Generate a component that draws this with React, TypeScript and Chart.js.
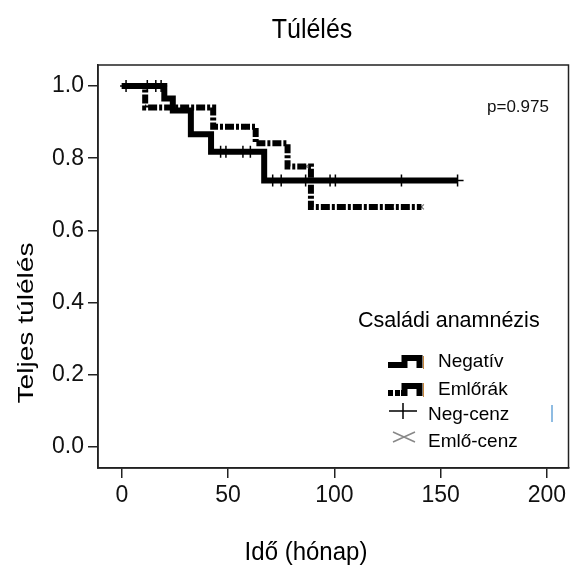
import React, { useEffect, useRef } from 'react';
import { Chart, registerables } from 'chart.js';

Chart.register(...registerables);

const FONT = '"Liberation Sans", Arial, sans-serif';

const chartTitle = 'Túlélés';
const xTitle = 'Idő (hónap)';
const yTitle = 'Teljes túlélés';
const pValueText = 'p=0.975';
const legendTitle = 'Családi anamnézis';
const legendLabels = ['Negatív', 'Emlőrák', 'Neg-cenz', 'Emlő-cenz'];

const xTickValues = [0, 50, 100, 150, 200];
const yTickValues = [0, 0.2, 0.4, 0.6, 0.8, 1.0];

// Kaplan-Meier steps (time in months, survival)
const negTimes = [0, 20, 24, 32.5, 42, 67, 158];
const negSurv = [1.0, 0.965, 0.932, 0.866, 0.818, 0.738, 0.738];
const emlTimes = [0, 11, 43, 63, 78, 89, 141];
const emlSurv = [1.0, 0.94, 0.887, 0.841, 0.777, 0.665, 0.665];

// censoring times
const negCensTimes = [2, 12, 16, 18.5, 46.5, 49, 57, 60.5, 71, 75, 86.5, 98, 100.5, 131.6, 158];
const emlCensTimes = [59, 87, 95, 127, 141];

function survAt(times: number[], surv: number[], t: number) {
  let s = surv[0];
  for (let i = 0; i < times.length; i++) if (times[i] <= t) s = surv[i];
  return s;
}

const overlay = {
  id: 'overlay',
  afterDraw(chart: any) {
    const ctx: CanvasRenderingContext2D = chart.ctx;
    const { left, top, right, bottom } = chart.chartArea;
    ctx.save();
    // plot box
    ctx.strokeStyle = '#222';
    ctx.lineWidth = 1.5;
    ctx.strokeRect(left, top, right - left, bottom - top);

    ctx.fillStyle = '#000';
    // main title
    ctx.save();
    ctx.font = `25px ${FONT}`;
    ctx.textAlign = 'center';
    ctx.textBaseline = 'alphabetic';
    ctx.translate(312, 38);
    ctx.scale(1, 1.1);
    ctx.fillText(chartTitle, 0, 0);
    ctx.restore();

    // x title
    ctx.save();
    ctx.font = `24px ${FONT}`;
    ctx.textAlign = 'center';
    ctx.textBaseline = 'alphabetic';
    ctx.translate(306, 560);
    ctx.scale(1, 1.1);
    ctx.fillText(xTitle, 0, 0);
    ctx.restore();

    // y title
    ctx.save();
    ctx.font = `22px ${FONT}`;
    ctx.textAlign = 'center';
    ctx.textBaseline = 'middle';
    ctx.translate(27, 323);
    ctx.rotate(-Math.PI / 2);
    ctx.scale(1.28, 1);
    ctx.fillText(yTitle, 0, 0);
    ctx.restore();

    // p value
    ctx.font = `17px ${FONT}`;
    ctx.textAlign = 'left';
    ctx.textBaseline = 'alphabetic';
    ctx.fillStyle = '#111';
    ctx.fillText(pValueText, 487, 112);

    // legend
    ctx.fillStyle = '#000';
    ctx.font = `21.5px ${FONT}`;
    ctx.fillText(legendTitle, 358, 327);

    ctx.font = `19px ${FONT}`;
    ctx.fillText(legendLabels[0], 438, 367);
    ctx.fillText(legendLabels[1], 438, 395);
    ctx.fillText(legendLabels[2], 428, 420);
    ctx.fillText(legendLabels[3], 428, 447);

    // Negatív symbol
    ctx.strokeStyle = '#000';
    ctx.lineWidth = 6;
    ctx.lineJoin = 'miter';
    ctx.lineCap = 'butt';
    ctx.beginPath();
    ctx.moveTo(388, 365);
    ctx.lineTo(404.5, 365);
    ctx.lineTo(404.5, 358);
    ctx.lineTo(419.5, 358);
    ctx.lineTo(419.5, 368);
    ctx.stroke();

    // Emlőrák symbol
    ctx.fillStyle = '#000';
    ctx.fillRect(388, 390, 5, 6);
    ctx.fillRect(395, 390, 5, 6);
    ctx.beginPath();
    ctx.moveTo(401, 393);
    ctx.lineTo(404.5, 393);
    ctx.lineTo(404.5, 386);
    ctx.lineTo(419.5, 386);
    ctx.lineTo(419.5, 396);
    ctx.stroke();

    // small coloured marks
    ctx.lineWidth = 1;
    ctx.strokeStyle = '#c8863a';
    ctx.beginPath();
    ctx.moveTo(423.5, 356);
    ctx.lineTo(423.5, 369);
    ctx.moveTo(423.5, 383);
    ctx.lineTo(423.5, 397);
    ctx.stroke();
    ctx.strokeStyle = '#6aa6d8';
    ctx.lineWidth = 1.5;
    ctx.beginPath();
    ctx.moveTo(552, 405);
    ctx.lineTo(552, 422);
    ctx.stroke();

    // Neg-cenz symbol (+)
    ctx.strokeStyle = '#000';
    ctx.lineWidth = 1.5;
    ctx.beginPath();
    ctx.moveTo(389, 411);
    ctx.lineTo(417, 411);
    ctx.moveTo(403, 403);
    ctx.lineTo(403, 419);
    ctx.stroke();

    // Emlő-cenz symbol (x)
    ctx.strokeStyle = '#888';
    ctx.lineWidth = 1.5;
    ctx.beginPath();
    ctx.moveTo(393, 432);
    ctx.lineTo(415, 442);
    ctx.moveTo(393, 442);
    ctx.lineTo(415, 432);
    ctx.stroke();

    ctx.restore();
  },
};

export default function App() {
  const canvasRef = useRef<HTMLCanvasElement | null>(null);

  useEffect(() => {
    const canvas = canvasRef.current;
    if (!canvas) return;
    const negLine = negTimes.map((t, i) => ({ x: t, y: negSurv[i] }));
    const emlLine = emlTimes.map((t, i) => ({ x: t, y: emlSurv[i] }));
    const negCens = negCensTimes.map((t) => ({ x: t, y: survAt(negTimes, negSurv, t) }));
    const emlCens = emlCensTimes.map((t) => ({ x: t, y: survAt(emlTimes, emlSurv, t) }));

    const chart = new Chart(canvas, {
      type: 'line',
      data: {
        datasets: [
          {
            label: 'Negatív',
            data: negLine,
            stepped: 'before',
            borderColor: '#000',
            borderWidth: 6,
            borderCapStyle: 'butt',
            borderJoinStyle: 'miter',
            pointRadius: 0,
            fill: false,
          },
          {
            label: 'Emlőrák',
            data: emlLine,
            stepped: 'before',
            borderColor: '#000',
            borderWidth: 6,
            borderDash: [9, 2, 3, 2],
            borderCapStyle: 'butt',
            borderJoinStyle: 'miter',
            pointRadius: 0,
            fill: false,
          },
          {
            type: 'scatter',
            label: 'Neg-cenz',
            data: negCens,
            pointStyle: 'cross',
            pointRadius: 6,
            borderColor: '#000',
            backgroundColor: '#000',
            borderWidth: 1.5,
            showLine: false,
          },
          {
            type: 'scatter',
            label: 'Emlő-cenz',
            data: emlCens,
            pointStyle: 'crossRot',
            pointRadius: 3.5,
            borderColor: '#777',
            backgroundColor: '#777',
            borderWidth: 1.2,
            showLine: false,
          },
        ] as any,
      },
      options: {
        responsive: false,
        animation: false,
        layout: { padding: { top: 65, right: 2, left: 0, bottom: 0 } },
        plugins: {
          legend: { display: false },
          tooltip: { enabled: false },
          title: { display: false },
        },
        scales: {
          x: {
            type: 'linear',
            min: -11.2,
            max: 210.2,
            afterBuildTicks: (s: any) => {
              s.ticks = xTickValues.map((v) => ({ value: v }));
            },
            afterFit: (s: any) => {
              s.height = 101;
            },
            grid: { drawOnChartArea: false, drawTicks: true, tickLength: 10, color: '#222', lineWidth: 1.5 },
            border: { display: true, color: '#222', width: 1.5 },
            ticks: {
              font: { family: FONT, size: 23 },
              color: '#111',
              padding: 4,
              maxRotation: 0,
              autoSkip: false,
            },
          },
          y: {
            type: 'linear',
            min: -0.058,
            max: 1.058,
            afterBuildTicks: (s: any) => {
              s.ticks = yTickValues.map((v) => ({ value: v }));
            },
            afterFit: (s: any) => {
              s.width = 98;
            },
            grid: { drawOnChartArea: false, drawTicks: true, tickLength: 10, color: '#222', lineWidth: 1.5 },
            border: { display: true, color: '#222', width: 1.5 },
            ticks: {
              font: { family: FONT, size: 23 },
              color: '#111',
              padding: 4,
              autoSkip: false,
              callback: (v: any) => Number(v).toFixed(1),
            },
          },
        },
      } as any,
      plugins: [overlay],
    });
    return () => chart.destroy();
  }, []);

  return (
    <div style={{ position: 'fixed', left: 0, top: 0, width: 576, height: 569, background: '#fff' }}>
      <canvas ref={canvasRef} width={576} height={569} style={{ width: 576, height: 569, display: 'block' }} />
    </div>
  );
}
